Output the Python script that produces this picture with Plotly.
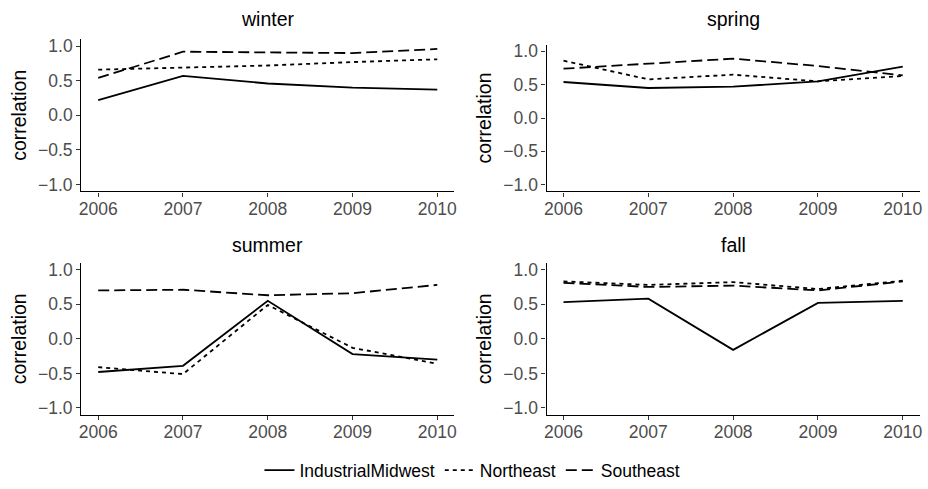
import plotly.graph_objects as go

years = [2006, 2007, 2008, 2009, 2010]
seasons = ["winter", "spring", "summer", "fall"]
regions = ["IndustrialMidwest", "Northeast", "Southeast"]

winter_im = [0.22, 0.57, 0.46, 0.40, 0.37]
winter_ne = [0.66, 0.69, 0.72, 0.77, 0.81]
winter_se = [0.54, 0.92, 0.91, 0.90, 0.96]

spring_im = [0.54, 0.45, 0.47, 0.55, 0.77]
spring_ne = [0.86, 0.58, 0.65, 0.55, 0.63]
spring_se = [0.74, 0.82, 0.89, 0.78, 0.64]

summer_im = [-0.48, -0.39, 0.55, -0.22, -0.30]
summer_ne = [-0.41, -0.51, 0.49, -0.13, -0.36]
summer_se = [0.70, 0.71, 0.63, 0.66, 0.78]

fall_im = [0.53, 0.58, -0.16, 0.52, 0.55]
fall_ne = [0.83, 0.78, 0.82, 0.72, 0.84]
fall_se = [0.81, 0.75, 0.77, 0.70, 0.83]

data = {
    "winter": [winter_im, winter_ne, winter_se],
    "spring": [spring_im, spring_ne, spring_se],
    "summer": [summer_im, summer_ne, summer_se],
    "fall": [fall_im, fall_ne, fall_se],
}

W, H = 928, 489
FONT = "Liberation Sans, Arial, Helvetica, sans-serif"
dashes = ["solid", "4px,4px", "11px,5px"]

# panel pixel boxes: (left, right, top, bottom)
boxes = {
    "winter": (79.7, 454.7, 36.7, 190.7),
    "spring": (547.5, 922.7, 42.2, 190.7),
    "summer": (79.7, 454.7, 263.0, 417.0),
    "fall": (547.5, 922.7, 263.0, 417.0),
}
title_y = {"winter": 16.0, "spring": 16.0, "summer": 244.5, "fall": 244.5}

fig = go.Figure()
layout = dict(
    width=W, height=H,
    margin=dict(l=0, r=0, t=0, b=0),
    paper_bgcolor="white", plot_bgcolor="white",
    font=dict(family=FONT, color="black"),
    showlegend=True,
    legend=dict(orientation="h", x=473 / W, xanchor="center",
                y=1 - 473 / H, yanchor="middle",
                font=dict(size=17.5, color="black", family=FONT),
                itemwidth=30, tracegroupgap=0),
)
annotations = []

for i, s in enumerate(seasons):
    n = "" if i == 0 else str(i + 1)
    xa, ya = "x" + n, "y" + n
    l, r, t, b = boxes[s]
    for j, reg in enumerate(regions):
        fig.add_trace(go.Scatter(
            x=years, y=data[s][j], mode="lines", name=reg,
            xaxis=xa, yaxis=ya,
            line=dict(color="black", width=1.8, dash=dashes[j]),
            showlegend=(i == 0),
        ))
    layout["xaxis" + n] = dict(
        domain=[l / W, r / W], anchor=ya, range=[2005.8, 2010.2],
        tickvals=years, ticktext=[str(y) for y in years],
        showline=True, linecolor="black", linewidth=1.3,
        ticks="outside", ticklen=4, tickcolor="#333333", tickwidth=1.1,
        ticklabelstandoff=-3,
        tickfont=dict(size=17.5, color="#4D4D4D", family=FONT),
        showgrid=False, zeroline=False,
    )
    layout["yaxis" + n] = dict(
        domain=[1 - b / H, 1 - t / H], anchor=xa, range=[-1.1, 1.1],
        tickvals=[-1.0, -0.5, 0.0, 0.5, 1.0], tickformat=".1f",
        showline=True, linecolor="black", linewidth=1.3,
        ticks="outside", ticklen=4, tickcolor="#333333", tickwidth=1.1,
        tickfont=dict(size=17.5, color="#4D4D4D", family=FONT),
        title=dict(text="correlation", font=dict(size=19.5, color="black", family=FONT), standoff=6),
        showgrid=False, zeroline=False,
    )
    annotations.append(dict(
        text=s, x=(l + r) / 2 / W, y=1 - title_y[s] / H,
        xref="paper", yref="paper", xanchor="center", yanchor="middle",
        showarrow=False, font=dict(size=19.5, color="black", family=FONT),
    ))

layout["annotations"] = annotations
fig.update_layout(**layout)
fig.write_html("out.html")
